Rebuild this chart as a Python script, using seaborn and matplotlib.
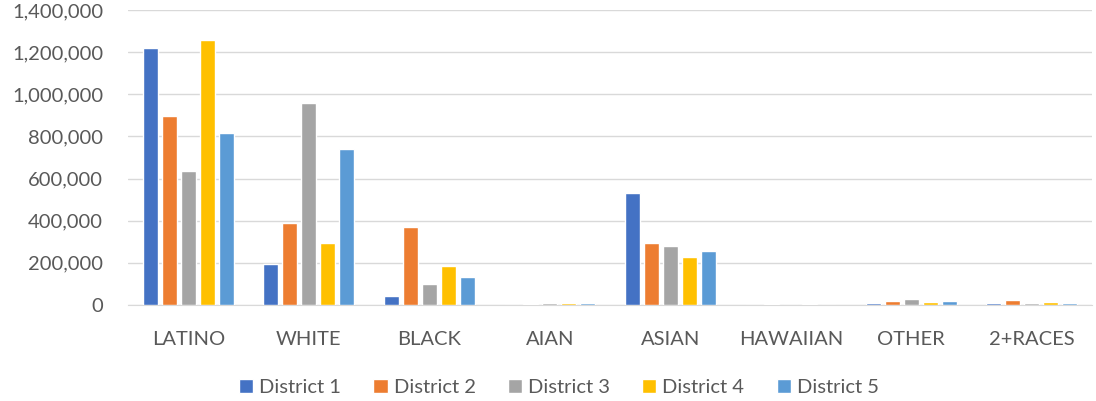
import pandas as pd
import numpy as np
import matplotlib
matplotlib.use('Agg')
import matplotlib.pyplot as plt
import seaborn as sns
from matplotlib.ticker import FuncFormatter

# Data
categories = ['LATINO', 'WHITE', 'BLACK', 'AIAN', 'ASIAN', 'HAWAIIAN', 'OTHER', '2+RACES']
district_1 = [1218000, 195000, 43000, 2000, 532000, 500, 8000, 8000]
district_2 = [898000, 390000, 370000, 3000, 293000, 3000, 19000, 22000]
district_3 = [636000, 957000, 100000, 8000, 280000, 1500, 27000, 11000]
district_4 = [1259000, 295000, 185000, 8000, 228000, 7000, 13000, 13000]
district_5 = [815000, 741000, 133000, 10000, 256000, 500, 17000, 10000]
districts = ['District 1', 'District 2', 'District 3', 'District 4', 'District 5']
colors = ['#4472C4', '#ED7D31', '#A5A5A5', '#FFC000', '#5B9BD5']

rows = []
for name, vals in zip(districts, [district_1, district_2, district_3, district_4, district_5]):
    for cat, v in zip(categories, vals):
        rows.append({'Race': cat, 'District': name, 'Population': v})
df = pd.DataFrame(rows)

sns.set_style('white')
plt.rcParams['font.family'] = ['Lato', 'DejaVu Sans']

fig = plt.figure(figsize=(10.96, 4.01), dpi=100)
ax = fig.add_axes([0.1168, 0.2394, 0.8796, 0.7356])

sns.barplot(data=df, x='Race', y='Population', hue='District', palette=colors,
            order=categories, hue_order=districts, width=0.79, gap=0.2,
            saturation=1, ax=ax, zorder=3)

ax.set_ylim(0, 1400000)
ax.set_yticks(np.arange(0, 1400001, 200000))
ax.yaxis.set_major_formatter(FuncFormatter(lambda v, p: f'{int(v):,}'))
ax.grid(axis='y', color='#D9D9D9', linewidth=1, zorder=0)
ax.set_xlabel('')
ax.set_ylabel('')
for s in ['top', 'right', 'left']:
    ax.spines[s].set_visible(False)
ax.spines['bottom'].set_color('#D9D9D9')
ax.tick_params(axis='both', length=0, labelsize=14.5, colors='#595959')
ax.tick_params(axis='x', pad=19)
ax.tick_params(axis='y', pad=18)

ax.legend(loc='upper center', bbox_to_anchor=(0.447, -0.19), ncol=5, frameon=False,
          fontsize=14.5, handlelength=0.7, handleheight=0.7, handletextpad=0.3,
          columnspacing=1.6, labelcolor='#595959')

fig.savefig('out.png', dpi=100)
